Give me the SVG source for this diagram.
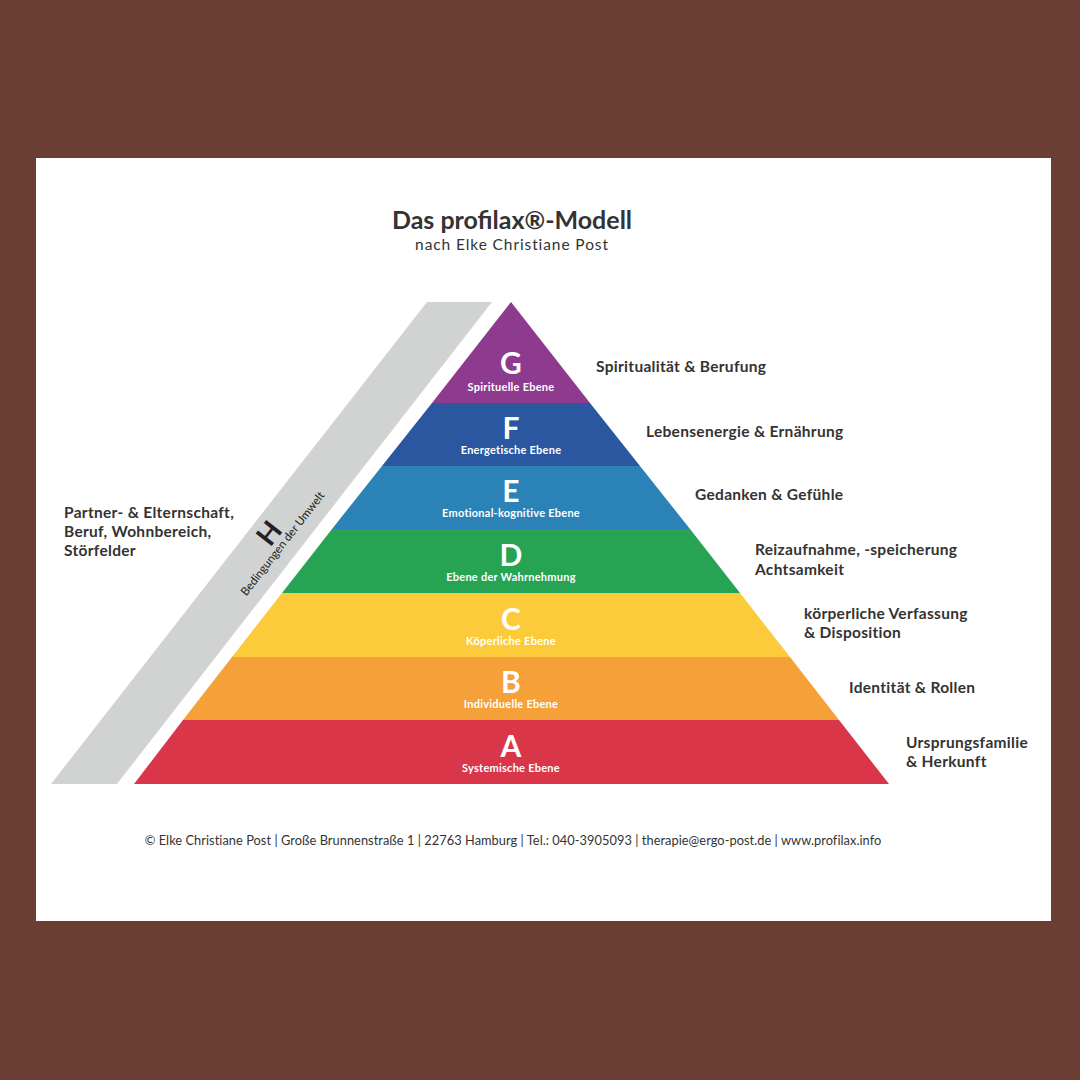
<svg xmlns="http://www.w3.org/2000/svg" width="1080" height="1080" viewBox="0 0 1080 1080">
<style>
.t{font-family:Lato,"Open Sans","Liberation Sans",sans-serif;}
.lt{font-family:Lato,"Open Sans","Liberation Sans",sans-serif;font-weight:700;font-size:30px;fill:#fff;text-anchor:middle;}
.ls{font-family:Lato,"Open Sans","Liberation Sans",sans-serif;font-weight:700;font-size:11px;letter-spacing:0.25px;fill:#fff;text-anchor:middle;}
.rl{font-family:Lato,"Open Sans","Liberation Sans",sans-serif;font-weight:700;font-size:15.5px;letter-spacing:0.3px;fill:#333;}
</style>
<rect width="1080" height="1080" fill="#6a3e33"/>
<rect x="36" y="158" width="1015" height="763" fill="#fff"/>
<g id="title">
<text class="t" x="512" y="229" font-size="25" font-weight="700" fill="#333" text-anchor="middle">Das profilax®-Modell</text>
<text class="t" x="512" y="250" font-size="15.5" letter-spacing="0.9" fill="#333" text-anchor="middle">nach Elke Christiane Post</text>
</g>
<g id="H">
<polygon points="427,302 492,302 117,784 51,784" fill="#d1d3d2"/>
<g transform="translate(245,598) rotate(-52)">
<text class="t" x="66" y="0" font-size="11.5" fill="#222" text-anchor="middle">Bedingungen der Umwelt</text>
<text class="t" x="66" y="-11" font-size="28" font-weight="700" fill="#222" text-anchor="middle">H</text>
</g>
</g>
<g id="G">
<polygon points="511,302 590,403 432,403" fill="#8e3a8e"/>
<text class="lt" x="511" y="374">G</text><text class="ls" x="511" y="391">Spirituelle Ebene</text>
</g>
<g id="F">
<polygon points="432,403 590,403 640,466 382,466" fill="#2b56a0"/>
<text class="lt" x="511" y="439">F</text><text class="ls" x="511" y="454">Energetische Ebene</text>
</g>
<g id="E">
<polygon points="382,466 640,466 690,529 332,529" fill="#2a82b6"/>
<text class="lt" x="511" y="502">E</text><text class="ls" x="511" y="517">Emotional-kognitive Ebene</text>
</g>
<g id="D">
<polygon points="332,529 690,529 740,593 282,593" fill="#27a354"/>
<text class="lt" x="511" y="566">D</text><text class="ls" x="511" y="581">Ebene der Wahrnehmung</text>
</g>
<g id="C">
<polygon points="282,593 740,593 790,657 232,657" fill="#fccb3b"/>
<text class="lt" x="511" y="630">C</text><text class="ls" x="511" y="645">Köperliche Ebene</text>
</g>
<g id="B">
<polygon points="232,657 790,657 839,720 183,720" fill="#f6a03a"/>
<text class="lt" x="511" y="693">B</text><text class="ls" x="511" y="708">Individuelle Ebene</text>
</g>
<g id="A">
<polygon points="183,720 839,720 889,784 134,784" fill="#d9364a"/>
<text class="lt" x="511" y="757">A</text><text class="ls" x="511" y="772">Systemische Ebene</text>
</g>
<g id="labels">
<text class="rl" x="596" y="372">Spiritualität &amp; Berufung</text>
<text class="rl" x="646" y="437">Lebensenergie &amp; Ernährung</text>
<text class="rl" x="695" y="500">Gedanken &amp; Gefühle</text>
<text class="rl" x="755" y="555">Reizaufnahme, -speicherung</text>
<text class="rl" x="755" y="575">Achtsamkeit</text>
<text class="rl" x="804" y="619">körperliche Verfassung</text>
<text class="rl" x="804" y="638">&amp; Disposition</text>
<text class="rl" x="849" y="693">Identität &amp; Rollen</text>
<text class="rl" x="906" y="748">Ursprungsfamilie</text>
<text class="rl" x="906" y="767">&amp; Herkunft</text>
<text class="rl" x="64" y="518">Partner- &amp; Elternschaft,</text>
<text class="rl" x="64" y="537">Beruf, Wohnbereich,</text>
<text class="rl" x="64" y="556">Störfelder</text>
</g>
<g id="footer">
<text class="t" x="513" y="845" font-size="12.8" letter-spacing="0.05" fill="#333" text-anchor="middle">© Elke Christiane Post | Große Brunnenstraße 1 | 22763 Hamburg | Tel.: 040-3905093 | therapie@ergo-post.de | www.profilax.info</text>
</g>
</svg>
